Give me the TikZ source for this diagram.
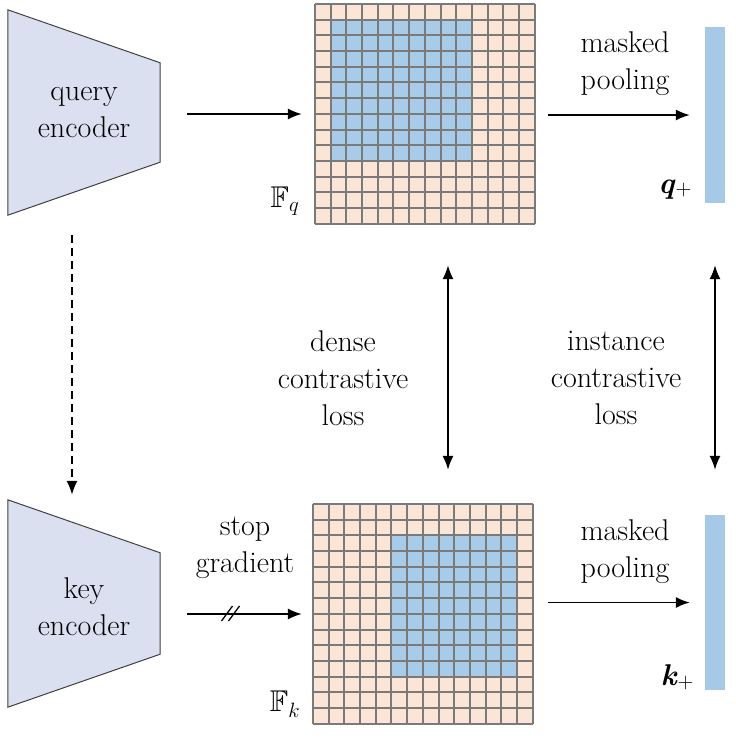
\documentclass[tikz,border=0pt]{standalone}
\usepackage{amssymb}
\usepackage{fontspec}
\usetikzlibrary{arrows.meta}
\definecolor{encfill}{HTML}{DAE0EF}
\definecolor{encdraw}{HTML}{404040}
\definecolor{cellpink}{HTML}{FBE5D6}
\definecolor{cellblue}{HTML}{A9CBEA}
\definecolor{gridgray}{HTML}{7A7A7A}
\definecolor{barblue}{HTML}{A6C9E8}
\begin{document}
\begin{tikzpicture}[x=1pt,y=-1pt,
 lbl/.style={font=\fontsize{30}{37}\selectfont, align=center, inner sep=0pt},
 arr/.style={line width=1.6pt, -{Latex[length=14pt,width=11pt]}},
 darr/.style={line width=1.6pt, {Latex[length=14pt,width=11pt]}-{Latex[length=14pt,width=11pt]}},
 enc/.style={minimum width=152pt, inner sep=0pt},
 encshape/.style={fill=encfill, draw=encdraw, line width=1pt},
 gridbox/.style={minimum width=220pt, minimum height=220pt, inner sep=0pt},
 gridline/.style={draw=gridgray, line width=2pt},
 bar/.style={fill=barblue, minimum width=20pt, inner sep=0pt}]
\useasboundingbox (0,0) rectangle (736,742);

% encoders
\node[enc, minimum height=205pt] (qe) at (84,112.5) {};
\node[enc, minimum height=207pt] (ke) at (84,603.5) {};
\path[encshape] (qe.north west) -- ([yshift=-53pt]qe.north east) -- ([yshift=53pt]qe.south east) -- (qe.south west) -- cycle;
\path[encshape] (ke.north west) -- ([yshift=-53pt]ke.north east) -- ([yshift=53pt]ke.south east) -- (ke.south west) -- cycle;
\node[lbl] (qet) at (qe) {query\\encoder};
\node[lbl] (ket) at ([yshift=-3pt]ke.center) {key\\encoder};

% grids
\node[gridbox] (gq) at (425,114) {};
\node[gridbox] (gk) at (423,614) {};
\begin{scope}[shift={(gq.north west)}, x=15.714pt, y=-15.714pt]
  \fill[cellpink] (0,0) rectangle (14,14);
  \fill[cellblue] (1,1) rectangle (10,10);
  \foreach \i in {0,...,14} {
    \draw[gridline] (\i,0) -- (\i,14);
    \draw[gridline] (0,\i) -- (14,\i);
  }
\end{scope}
\begin{scope}[shift={(gk.north west)}, x=15.714pt, y=-15.714pt]
  \fill[cellpink] (0,0) rectangle (14,14);
  \fill[cellblue] (5,2) rectangle (13,11);
  \foreach \i in {0,...,14} {
    \draw[gridline] (\i,0) -- (\i,14);
    \draw[gridline] (0,\i) -- (14,\i);
  }
\end{scope}
\node[lbl] (fq) at (285,201) {$\mathbb{F}_{q}$};
\node[lbl] (fk) at (285,704) {$\mathbb{F}_{k}$};

% bars
\node[bar, minimum height=176pt] (bq) at (715,115) {};
\node[bar, minimum height=175pt] (bk) at (715,602.5) {};
\node[lbl] (qp) at (675,190) {\textbf{\textit{q}}\raisebox{-2pt}{\fontsize{22}{22}\selectfont +}};
\node[lbl] (kp) at (677,677) {\textbf{\textit{k}}\raisebox{-3pt}{\fontsize{22}{22}\selectfont +}};

% arrows
\draw[arr, shorten <=27pt, shorten >=13pt] (qe.east |- gq.west) -- (gq.west);
\draw[arr, shorten <=27pt, shorten >=11pt] (ke.east |- gk.west) -- coordinate[pos=0.5] (sl) (gk.west);
\draw[line width=1.3pt] (sl) +(-15,7) -- +(-4,-8);
\draw[line width=1.3pt] (sl) +(-8,7) -- +(3,-8);
\draw[arr, shorten <=13pt, shorten >=15pt] (gq.east |- bq.west) -- (bq.west);
\draw[arr, shorten <=15pt, shorten >=15pt] (gk.east |- bk.west) -- (bk.west);
\draw[arr, dash pattern=on 8pt off 5pt, shorten <=20pt, shorten >=5pt] ([xshift=-12pt]qe.south) -- ([xshift=-12pt]ke.north);
\draw[darr, shorten <=41pt, shorten >=34pt] ([xshift=23pt]gq.south) -- ([xshift=23pt]gq.south |- gk.north);
\draw[darr, shorten <=62pt, shorten >=45pt] (bq.south) -- (bk.north);

% labels
\node[lbl] (sgt) at (245,548) {stop\\gradient};
\node[lbl] (mpq) at (625,64) {masked\\pooling};
\node[lbl] (mpk) at (625,552) {masked\\pooling};
\node[lbl] (dcl) at (343,378) {dense\\contrastive\\loss};
\node[lbl] (icl) at (616,378) {instance\\contrastive\\loss};
\end{tikzpicture}
\end{document}
